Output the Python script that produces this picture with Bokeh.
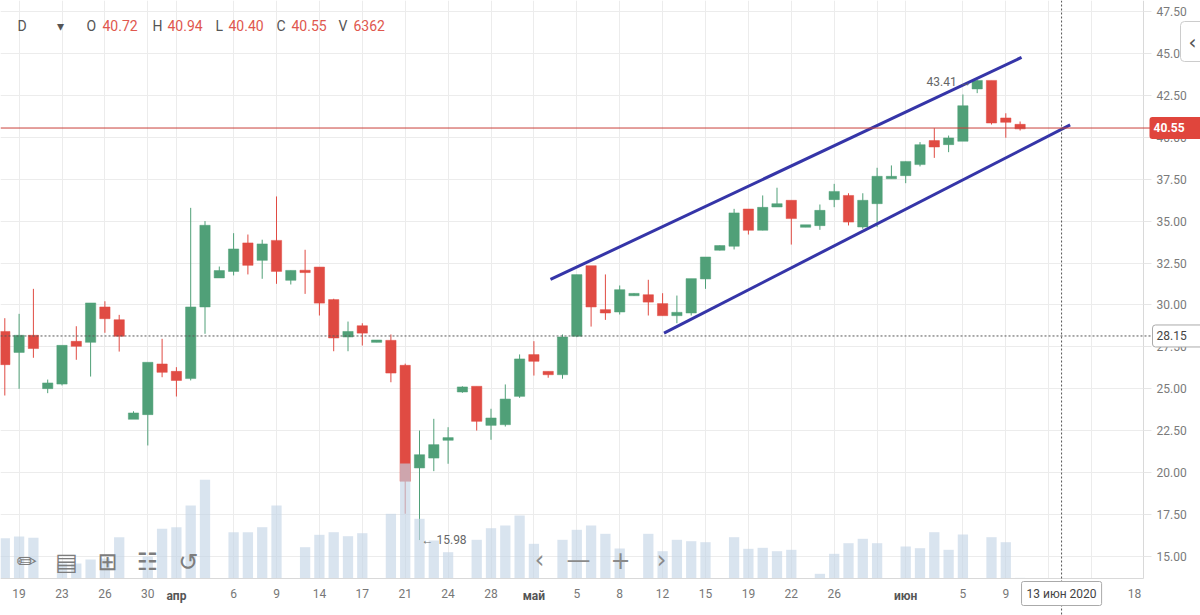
from bokeh.plotting import figure
from bokeh.models import Range1d, FixedTicker, PrintfTickFormatter, Span, Label
from bokeh.core.properties import value
from bokeh.embed import file_html
from bokeh.resources import INLINE

# ---------------- data ----------------
opens = [28.37, 27.22, 28.14, 25.06, 25.33, 27.78, 27.82, 29.83, 29.07, 23.23,
         23.51, 26.43, 25.99, 25.66, 29.93, 31.66, 32.05, 33.65, 32.71, 33.80,
         31.52, 32.02, 32.21, 30.27, 28.14, 28.71, 27.82, 27.84, 26.35, 20.33,
         20.92, 21.98, 24.86, 25.10, 22.87, 22.91, 24.60, 26.99, 25.99, 25.89,
         28.18, 32.29, 29.67, 29.63, 30.60, 30.56, 30.03, 29.41, 29.57, 31.60,
         33.31, 33.55, 35.67, 34.50, 35.89, 36.19, 34.68, 34.78, 36.33, 36.48,
         34.70, 36.09, 37.57, 37.76, 38.42, 39.75, 39.61, 39.81, 42.93, 43.34,
         41.10, 40.72]
highs = [29.21, 29.47, 30.96, 25.55, 27.54, 28.73, 30.07, 30.22, 29.41, 23.66,
         26.53, 27.98, 26.29, 35.79, 35.00, 32.29, 34.28, 34.20, 33.89, 36.47,
         32.05, 33.29, 32.25, 30.37, 29.01, 28.91, 27.90, 28.24, 26.50, 22.51,
         23.21, 22.71, 25.15, 25.12, 23.81, 25.26, 27.05, 27.84, 26.02, 28.24,
         31.80, 32.32, 31.82, 31.16, 30.70, 31.50, 30.70, 30.56, 31.55, 32.85,
         33.55, 35.73, 35.70, 36.53, 36.99, 36.20, 34.76, 35.99, 37.22, 36.66,
         36.66, 38.18, 38.32, 38.55, 39.71, 40.54, 40.10, 42.55, 43.41, 43.36,
         41.43, 40.94]
lows = [24.60, 25.00, 26.85, 24.74, 25.20, 26.73, 25.73, 28.34, 27.22, 23.20,
        21.62, 25.69, 24.54, 25.50, 28.28, 31.66, 31.76, 31.82, 31.56, 31.26,
        31.22, 30.66, 29.37, 27.24, 27.24, 27.58, 27.78, 25.39, 17.55, 15.98,
        20.09, 20.53, 24.76, 22.51, 21.96, 22.75, 24.46, 25.79, 25.66, 25.60,
        28.08, 28.71, 29.11, 29.43, 30.55, 29.37, 29.38, 28.91, 29.37, 30.96,
        33.25, 33.31, 34.20, 34.45, 35.85, 33.60, 34.64, 34.48, 35.83, 34.74,
        34.54, 34.64, 37.55, 37.26, 38.26, 38.77, 39.11, 39.80, 42.63, 40.76,
        39.97, 40.40]
closes = [26.49, 28.14, 27.45, 25.30, 27.54, 27.58, 30.07, 29.23, 28.18, 23.51,
          26.53, 26.03, 25.55, 29.83, 34.70, 32.00, 33.29, 32.41, 33.59, 32.05,
          32.01, 31.98, 30.16, 28.08, 28.37, 28.37, 27.86, 25.99, 19.53, 21.02,
          21.62, 22.04, 25.06, 23.11, 23.21, 24.34, 26.73, 26.69, 25.89, 28.04,
          31.76, 29.93, 29.57, 30.86, 30.64, 30.22, 29.41, 29.51, 31.52, 32.81,
          33.49, 35.44, 34.50, 35.77, 35.99, 35.20, 34.73, 35.59, 36.72, 34.99,
          36.19, 37.62, 37.62, 38.51, 39.51, 39.47, 39.91, 41.83, 43.34, 40.90,
          40.94, 40.55]
volumes = [402000, 421000, 408000, 0, 150000, 150000, 190000, 200000, 413000, 0,
           220000, 497000, 513000, 730000, 987000, 0, 463000, 463000, 513000, 730000,
           0, 313000, 437000, 463000, 423000, 453000, 0, 647000, 1150000, 597000,
           380000, 263000, 0, 387000, 503000, 530000, 630000, 347000, 0, 387000,
           487000, 530000, 447000, 300000, 0, 447000, 273000, 387000, 373000, 363000,
           0, 413000, 297000, 307000, 273000, 287000, 0, 47000, 247000, 353000,
           397000, 353000, 0, 320000, 303000, 463000, 287000, 440000, 0, 413000,
           363000, 6362]

tick_pos = [1, 4, 7, 10, 12, 16, 19, 22, 25, 28, 31, 34, 37, 40, 43, 46, 49, 52,
            55, 58, 61, 63, 67, 70, 73, 76, 79]
tick_labels = ["19", "23", "26", "30", "апр", "6", "9", "14", "17", "21", "24", "28",
               "май", "5", "8", "12", "15", "19", "22", "26", "", "июн", "5", "9",
               "", "", "18"]
month_labels = ["апр", "май", "июн"]

price_ticks = [15.0, 17.5, 20.0, 22.5, 25.0, 27.5, 30.0, 32.5, 35.0, 37.5, 40.0,
               42.5, 45.0, 47.5]

last_price = 40.55
cross_price = 28.15
cross_index = 73.9
cross_date = "13 июн 2020"
high_mark = 43.41
low_mark = 15.98

upper_x = [38.16, 71.1]
upper_y = [31.52, 44.76]
lower_x = [46.1, 74.5]
lower_y = [28.32, 40.74]

header_keys = ["O", "H", "L", "C", "V"]
header_vals = ["40.72", "40.94", "40.40", "40.55", "6362"]


# ---------------- layout helpers (reference pixels -> data) ----------------
def X(px):
    return (px - 4.3) / 14.3


def Y(py):
    return 15 + (556 - py) / 16.77


GREEN = "#50a078"
RED = "#e04b43"
FONT = "Roboto"
W, H = 1200, 615
AXIS_X = 1143   # pixel column of the price axis
AXIS_Y = 578    # pixel row of the date axis
VOL_PER_PX = 10000

idx = list(range(len(opens)))
colors = [GREEN if c >= o else RED for o, c in zip(opens, closes)]
body_top = [max(o, c) + 0.05 for o, c in zip(opens, closes)]
body_bot = [min(o, c) - 0.05 for o, c in zip(opens, closes)]

p = figure(width=W, height=H, output_backend="svg", toolbar_location=None,
           x_range=Range1d(X(0), X(W)), y_range=Range1d(Y(H), Y(0)),
           y_axis_location="right", min_border=0)
p.outline_line_color = None
p.background_fill_color = "white"
p.border_fill_color = "white"

p.extra_y_ranges = {"vol": Range1d(-(H - AXIS_Y) * VOL_PER_PX, AXIS_Y * VOL_PER_PX)}

# grid
p.xgrid.ticker = FixedTicker(ticks=tick_pos[:-1])
p.xgrid.grid_line_color = "#ececec"
p.ygrid.grid_line_color = "#ececec"

# white masks for the axis areas (hide grid there)
p.quad(left=[X(AXIS_X)], right=[X(W + 2)], bottom=[Y(H + 2)], top=[Y(-2)],
       fill_color="white", line_color=None)
p.quad(left=[X(-2)], right=[X(AXIS_X)], bottom=[Y(H + 2)], top=[Y(AXIS_Y)],
       fill_color="white", line_color=None)

# x axis (drawn inside the canvas)
xa = p.xaxis[0]
xa.fixed_location = Y(AXIS_Y)
xa.bounds = (X(0), X(AXIS_X))
xa.ticker = FixedTicker(ticks=tick_pos)
xa.major_label_overrides = {t: ("" if l in month_labels else l)
                            for t, l in zip(tick_pos, tick_labels)}
xa.major_tick_out = 0
xa.major_tick_in = 0
xa.minor_tick_out = 0
xa.minor_tick_in = 0
xa.axis_line_color = "#d9d9d9"
xa.major_label_standoff = 10
xa.major_label_text_font = FONT
xa.major_label_text_font_size = "12px"
xa.major_label_text_color = "#777777"

# y axis (right)
ya = p.yaxis[0]
ya.fixed_location = X(AXIS_X)
ya.bounds = (Y(AXIS_Y), Y(0))
ya.ticker = FixedTicker(ticks=price_ticks)
ya.formatter = PrintfTickFormatter(format="%.2f")
ya.major_tick_out = 8
ya.major_tick_in = 0
ya.major_tick_line_color = "#e6e6e6"
ya.minor_tick_out = 0
ya.minor_tick_in = 0
ya.axis_line_color = "#d9d9d9"
ya.major_label_standoff = 5
ya.major_label_text_font = FONT
ya.major_label_text_font_size = "12px"
ya.major_label_text_color = "#7a7a7a"

# candles
p.segment(x0=idx, y0=lows, x1=idx, y1=highs, color=colors, line_width=1)
p.vbar(x=idx, width=0.72, top=body_top, bottom=body_bot,
       fill_color=colors, line_color=colors, line_width=0.5)

# volume (overlaid)
p.vbar(x=idx, width=0.72, top=volumes, bottom=0, y_range_name="vol",
       fill_color="#c4d6e7", fill_alpha=0.65, line_color=None)

# trend channel
p.line(upper_x, upper_y, line_color="#3535a8", line_width=3)
p.line(lower_x, lower_y, line_color="#3535a8", line_width=3)

# last price line and crosshair
p.add_layout(Span(location=last_price, dimension="width", line_color="#c9403a", line_width=1))
p.add_layout(Span(location=cross_price, dimension="width", line_color="#555555",
                  line_width=1, line_dash="2 2"))
p.add_layout(Span(location=cross_index, dimension="height", line_color="#555555",
                  line_width=1, line_dash="2 2"))

# high / low markers
p.add_layout(Label(x=X(926), y=high_mark, text=f"{high_mark:.2f} →",
                   text_font=FONT, text_font_size="12px", text_color="#666666",
                   text_baseline="middle", text_align="left", y_offset=-2))
p.add_layout(Label(x=X(421), y=low_mark, text=f"← {low_mark:.2f}",
                   text_font=FONT, text_font_size="12px", text_color="#666666",
                   text_baseline="middle", text_align="left"))

# header
hx_keys = [X(86), X(152), X(215), X(276), X(338)]
hx_vals = [X(102), X(167), X(228), X(291), X(353)]
p.text(x=[X(17)], y=[Y(25)], text=["D"], text_font=value(FONT), text_font_size="14px",
       text_color="#555555", text_baseline="middle")
p.text(x=[X(60)], y=[Y(25)], text=["▾"], text_font=value("DejaVu Sans"),
       text_font_size="14px", text_color="#555555", text_baseline="middle",
       text_align="center")
p.text(x=hx_keys, y=[Y(25)] * 5, text=header_keys, text_font=value(FONT),
       text_font_size="14px", text_color="#555555", text_baseline="middle")
p.text(x=hx_vals, y=[Y(25)] * 5, text=header_vals, text_font=value(FONT),
       text_font_size="14px", text_color="#e0574e", text_baseline="middle")

# drawing tools (bottom left) and navigation (bottom middle)
tool_glyphs = ["✏", "▤", "⊞", "☷", "↺"]
tool_x = [X(26), X(66), X(107), X(147), X(188)]
p.text(x=tool_x, y=[Y(561)] * 5, text=tool_glyphs, text_font=value("DejaVu Sans"),
       text_font_size="24px", text_color="#7d7d7d", text_align="center",
       text_baseline="middle")
nav_glyphs = ["‹", "—", "+", "›"]
nav_x = [X(539), X(578), X(620), X(661)]
p.text(x=nav_x, y=[Y(559)] * 4, text=nav_glyphs, text_font=value("DejaVu Sans"),
       text_font_size="24px", text_color="#8a8a8a", text_align="center",
       text_baseline="middle")

# month labels (slightly bolder)
for t, l in zip(tick_pos, tick_labels):
    if l in month_labels:
        p.add_layout(Label(x=t, y=Y(595), text=l, text_font=FONT, text_font_size="12px",
                           text_color="#555555", text_font_style="bold",
                           text_align="center", text_baseline="middle"))

# axis tags
p.add_layout(Label(x=X(1149), y=last_price, text=f"{last_price:.2f}      ", text_font=FONT,
                   text_font_size="12px", text_color="white", text_font_style="bold",
                   text_baseline="middle", text_align="left",
                   background_fill_color="#e0453c", padding=4, border_radius=3))
p.add_layout(Label(x=X(1152), y=cross_price, text=f"{cross_price:.2f}      ", text_font=FONT,
                   text_font_size="12px", text_color="#444444",
                   text_baseline="middle", text_align="left",
                   background_fill_color="white", border_line_color="#aaaaaa",
                   padding=4, border_radius=3))
p.add_layout(Label(x=cross_index, y=Y(593), text=cross_date, text_font=FONT,
                   text_font_size="12px", text_color="#444444",
                   text_baseline="middle", text_align="center",
                   background_fill_color="white", border_line_color="#aaaaaa",
                   padding=5, border_radius=2))
# side scroll button at the right edge
p.add_layout(Label(x=X(1192), y=Y(41), text="‹", text_font="DejaVu Sans",
                   text_font_size="20px", text_color="#555555",
                   text_baseline="middle", text_align="center",
                   background_fill_color="white", border_line_color="#cccccc",
                   padding=8, border_radius=4))

open("out.html", "w").write(file_html(p, INLINE))
